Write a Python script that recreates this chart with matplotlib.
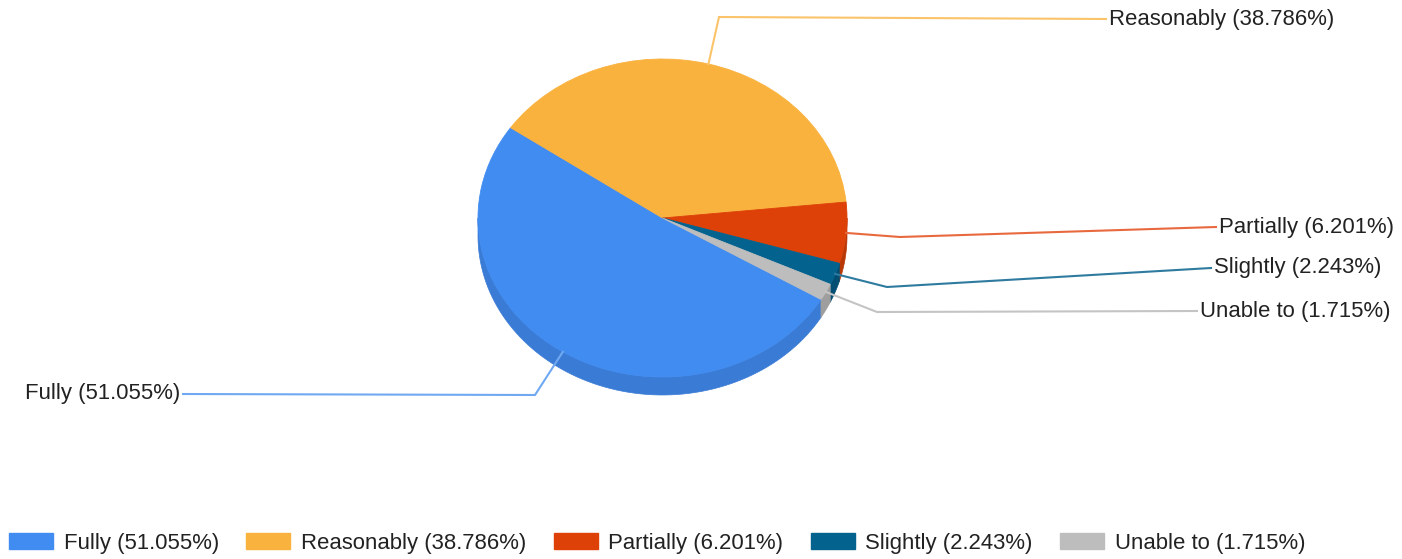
import numpy as np
import matplotlib
matplotlib.use("Agg")
import matplotlib.pyplot as plt
from matplotlib.patches import Polygon, Patch

categories = ["Fully", "Reasonably", "Partially", "Slightly", "Unable to"]
values = [51.055, 38.786, 6.201, 2.243, 1.715]
colors = ["#418cf0", "#fab23f", "#dd4108", "#03628e", "#bdbdbd"]
side_colors = ["#3a7bd6", "#d99a36", "#b83808", "#034f74", "#9e9e9e"]
line_colors = ["#70a9f2", "#fbc46a", "#e8693e", "#2f7ba0", "#c4c4c4"]
labels = [f"{c} ({v:.3f}%)" for c, v in zip(categories, values)]

W, H = 1402, 559
fig = plt.figure(figsize=(W / 100, H / 100), dpi=100)
ax = fig.add_axes([0, 0, 1, 1])

# ellipse geometry (pixels)
cx, cy, rx, ry, depth = 662.5, 218.0, 184.5, 159.0, 18.0
start = -30.8
FONT = "Liberation Sans"
FS = 15.9
TXT = "#222222"


def px(x, y):
    return (x - cx) / rx, (cy - y) / ry


# top face
wedges, _ = ax.pie(values, colors=colors, startangle=start, counterclock=False,
                   radius=1, center=(0, 0), wedgeprops=dict(linewidth=0.6))
for w, c in zip(wedges, colors):
    w.set_edgecolor(c)
ax.set_aspect("auto")
ax.set_xlim(-cx / rx, (W - cx) / rx)
ax.set_ylim((cy - H) / ry, cy / ry)
ax.axis("off")

# side (depth)
fr = np.array(values) / sum(values)
cum = np.concatenate([[0], np.cumsum(fr)])
d = depth / ry
mids = []
for i in range(len(values)):
    a1 = start - cum[i] * 360
    a2 = start - cum[i + 1] * 360
    mids.append((a1 + a2) / 2)
    lo, hi = min(a1, a2), max(a1, a2)
    # visible part: angles in [-180, 0] (mod 360)
    for shift in (0, 360, -360):
        l, h = max(lo + shift, -180), min(hi + shift, 0)
        if h > l:
            t = np.radians(np.linspace(l, h, 80))
            xs, ys = np.cos(t), np.sin(t)
            pts = np.concatenate([np.c_[xs, ys], np.c_[xs[::-1], ys[::-1] - d]])
            ax.add_patch(Polygon(pts, closed=True, facecolor=side_colors[i],
                                 edgecolor=side_colors[i], lw=0.5, zorder=0))

# leader lines (elbow and end positions in pixels)
elbows = [(535, 395), (719, 17), (900, 237), (887, 287), (877, 312)]
ends = [(183, 394), (1106, 19), (1216, 227), (1211, 268), (1197, 311)]
for i in range(len(values)):
    t = np.radians(mids[i])
    x0, y0 = np.cos(t), np.sin(t)
    ex, ey = px(*elbows[i])
    tx, ty = px(*ends[i])
    ax.plot([x0, ex, tx], [y0, ey, ty], color=line_colors[i], lw=1.5,
            solid_joinstyle="miter", zorder=3)
    ha = "right" if tx < 0 else "left"
    ax.text(tx + (-0.015 if ha == "right" else 0.015), ty, labels[i], ha=ha,
            va="center", fontsize=FS, family=FONT, color=TXT)

handles = [Patch(facecolor=c, edgecolor=c) for c in colors]
fig.legend(handles, labels, loc="center left", bbox_to_anchor=(9 / W, 16 / H),
           ncol=5, frameon=False, borderpad=0, borderaxespad=0,
           handlelength=1.98, handleheight=0.77, handletextpad=0.49,
           columnspacing=1.25, prop=dict(family=FONT, size=FS),
           labelcolor=TXT)

fig.savefig("out.png", dpi=100)
